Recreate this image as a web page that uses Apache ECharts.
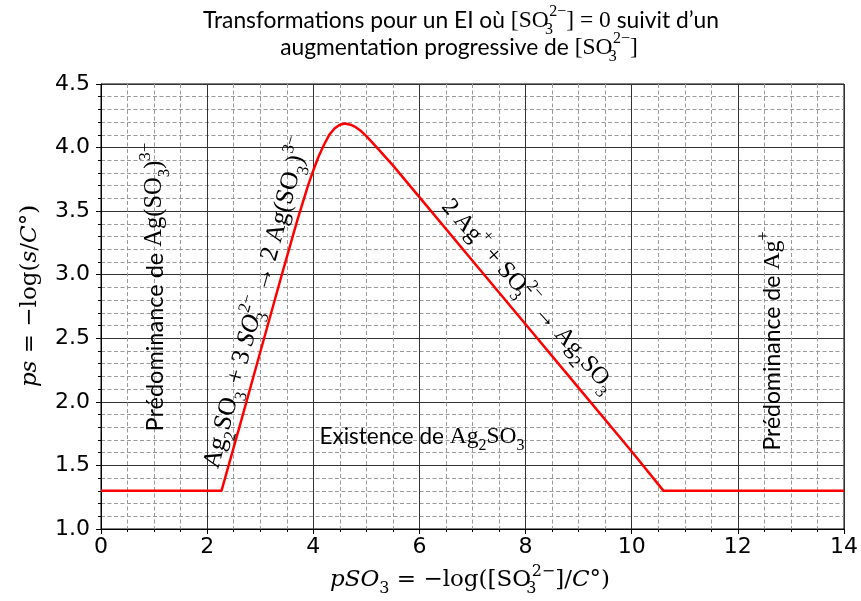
<!DOCTYPE html>
<html>
<head>
<meta charset="utf-8">
<script src="https://cdn.jsdelivr.net/npm/echarts@6/dist/echarts.min.js"></script>
<style>html,body{margin:0;padding:0;background:#fff;}#c{width:861px;height:601px;}</style>
</head>
<body>
<div id="c"></div>
<script>
// Values
const pSO3 = [0, 2.27, 2.6, 3.0, 3.4, 3.7, 3.9, 4.0, 4.1, 4.2, 4.3, 4.4, 4.5, 4.6, 4.7, 4.8, 4.9, 5.0, 5.2, 5.5, 6.0, 7.0, 8.0, 9.0, 10.0, 10.6, 14];
const psValues = [1.3, 1.3, 1.79, 2.39, 2.99, 3.43, 3.70, 3.82, 3.93, 4.02, 4.10, 4.15, 4.18, 4.19, 4.18, 4.16, 4.13, 4.09, 4.00, 3.86, 3.61, 3.11, 2.61, 2.11, 1.61, 1.3, 1.3];
const xTicks = [0, 2, 4, 6, 8, 10, 12, 14];
const yTicks = [1.0, 1.5, 2.0, 2.5, 3.0, 3.5, 4.0, 4.5];

const lineData = pSO3.map((x, i) => [x, psValues[i]]);

const SANS = 'Lato';

function rich(size, msize, serif) {
  msize = msize || size;
  const SERIF = serif || 'Liberation Serif';
  const L = Math.round(Math.max(size, msize) * 1.45);
  const s = Math.round(msize * 0.68);
  const sl = Math.round(msize * 0.82);
  return {
    t: {fontSize: size, fontFamily: SANS, lineHeight: L, fill: '#000', color: '#000'},
    m: {fontSize: msize, fontFamily: SERIF, lineHeight: L, fill: '#000', color: '#000'},
    mi: {fontSize: msize, fontFamily: SERIF, fontStyle: 'italic', lineHeight: L, fill: '#000', color: '#000'},
    b: {fontSize: s, fontFamily: SERIF, lineHeight: sl, verticalAlign: 'bottom', fill: '#000', color: '#000'},
    bs: {fontSize: s, fontFamily: SERIF, lineHeight: sl, verticalAlign: 'bottom', width: 0.5, fill: '#000', color: '#000'},
    p: {fontSize: s, fontFamily: SERIF, lineHeight: sl, verticalAlign: 'top', fill: '#000', color: '#000'}
  };
}

function txt(x, y, text, size, msize, rotDeg, serif) {
  return {
    type: 'text', x: x, y: y, rotation: (rotDeg || 0) * Math.PI / 180, z: 100,
    style: {
      text: text, rich: rich(size, msize, serif), fill: '#000',
      align: 'center', verticalAlign: 'middle', textAlign: 'center', textVerticalAlign: 'middle'
    }
  };
}

const chart = echarts.init(document.getElementById('c'), null, {renderer: 'canvas'});
chart.setOption({
  animation: false,
  backgroundColor: '#fff',
  grid: {left: 101, right: 15, top: 84, bottom: 72, show: true, borderColor: '#000', borderWidth: 1, backgroundColor: 'transparent'},
  xAxis: {
    type: 'value', min: xTicks[0], max: xTicks[xTicks.length - 1], interval: 2,
    axisLine: {show: true, onZero: false, lineStyle: {color: '#000', width: 1}},
    axisTick: {show: true, length: 5, lineStyle: {color: '#000'}},
    minorTick: {show: true, splitNumber: 4, length: 3, lineStyle: {color: '#000'}},
    axisLabel: {fontSize: 22, fontFamily: 'DejaVu Sans', color: '#000', margin: 7},
    splitLine: {show: true, lineStyle: {color: '#333', width: 1}},
    minorSplitLine: {show: true, lineStyle: {color: '#9a9a9a', width: 1, type: [4, 2.5]}}
  },
  yAxis: {
    type: 'value', min: yTicks[0], max: yTicks[yTicks.length - 1], interval: 0.5,
    axisLine: {show: true, onZero: false, lineStyle: {color: '#000', width: 1}},
    axisTick: {show: true, length: 5, lineStyle: {color: '#000'}},
    minorTick: {show: true, splitNumber: 5, length: 3, lineStyle: {color: '#000'}},
    axisLabel: {fontSize: 22, fontFamily: 'DejaVu Sans', color: '#000', margin: 11, formatter: v => v.toFixed(1)},
    splitLine: {show: true, lineStyle: {color: '#333', width: 1}},
    minorSplitLine: {show: true, lineStyle: {color: '#9a9a9a', width: 1, type: [4, 2.5]}}
  },
  series: [{
    type: 'line', data: lineData, showSymbol: false, symbol: 'none',
    lineStyle: {color: '#ff0000', width: 2.5}, z: 10
  }],
  graphic: [
    txt(461, 21, '{t|Transformations pour un EI où }{m|[SO}{bs|3}{p|2−}{m|] = 0}{t| suivit d’un}', 22.8, 23.5),
    txt(459, 48, '{t|augmentation progressive de }{m|[SO}{bs|3}{p|2−}{m|]}', 22.8, 23.5),
    txt(30, 296, '{mi|ps}{m| = −log(}{mi|s}{m|/}{mi|C}{m|°)}', 23, 23, 90, 'DejaVu Serif'),
    txt(470, 580, '{mi|pSO}{b|3}{m| = −log([SO}{bs|3}{p|2−}{m|]/}{mi|C}{m|°)}', 23, 23, 0, 'DejaVu Serif'),
    txt(155, 287, '{t|Prédominance de }{m|Ag(SO}{b|3}{m|)}{p|3−}', 23.5, 24.5, 90),
    txt(773, 341, '{t|Prédominance de }{m|Ag}{p|+}', 23, 24, 90),
    txt(422, 437, '{t|Existence de }{m|Ag}{b|2}{m|SO}{b|3}', 22.5, 23.5),
    txt(257, 303, '{m|Ag}{b|2}{m|SO}{b|3}{m| + 3 }{mi|SO}{bs|3}{p|2−}{m| → 2 Ag(SO}{b|3}{m|)}{p|3−}', 25.5, 25.5, 74.6),
    txt(528, 296, '{m|2 Ag}{p|+}{m| + SO}{bs|3}{p|2−}{m| → Ag}{b|2}{m|SO}{b|3}', 24.5, 24.5, -48.5)
  ]
});
</script>
</body>
</html>
